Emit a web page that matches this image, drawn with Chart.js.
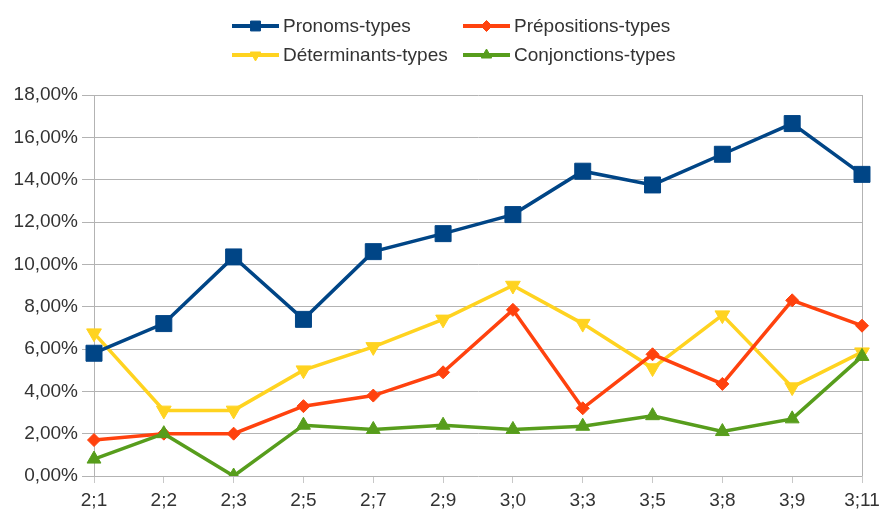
<!DOCTYPE html>
<html>
<head>
<meta charset="utf-8">
<script src="https://cdn.jsdelivr.net/npm/chart.js@4.4.0/dist/chart.umd.min.js"></script>
<style>
  html, body { margin: 0; padding: 0; background: #fff; }
  #wrap { width: 886px; height: 510px; position: relative; }
</style>
</head>
<body>
<div id="wrap"><canvas id="c"></canvas></div>
<script>
const categories = ["2;1","2;2","2;3","2;5","2;7","2;9","3;0","3;3","3;5","3;8","3;9","3;11"];
const pronoms      = [5.8, 7.2, 10.35, 7.4, 10.6, 11.45, 12.35, 14.4, 13.75, 15.2, 16.65, 14.25];
const prepositions = [1.7, 2.0, 2.0, 3.3, 3.8, 4.9, 7.85, 3.2, 5.75, 4.35, 8.3, 7.1];
const determinants = [6.75, 3.1, 3.1, 5.0, 6.1, 7.4, 9.0, 7.2, 5.1, 7.6, 4.2, 5.85];
const conjonctions = [0.8, 2.0, 0.0, 2.4, 2.2, 2.4, 2.2, 2.35, 2.85, 2.1, 2.7, 5.65];
const seriesNames = ["Pronoms-types", "Prépositions-types", "Déterminants-types", "Conjonctions-types"];

const FONT = "'Liberation Sans', Arial, sans-serif";
const TEXT = '#333333';
const GRID = '#b3b3b3';

function ds(label, data, color, style, radius, rotation, order, legendRadius) {
  return {
    label, data,
    borderColor: color, backgroundColor: color,
    borderWidth: 3.5,
    pointStyle: style, pointRadius: radius, pointHoverRadius: radius,
    pointRotation: rotation,
    pointBorderWidth: 1, pointBackgroundColor: color, pointBorderColor: color,
    tension: 0, fill: false, order,
    legendRadius
  };
}

const datasets = [
  ds(seriesNames[0], pronoms,      '#004586', 'rect',     11.3, 0,   2, 7),
  ds(seriesNames[1], prepositions, '#ff420e', 'rectRot',  6.5,  0,   1, 5.5),
  ds(seriesNames[2], determinants, '#ffd320', 'triangle', 8.5,  180, 3, 6),
  ds(seriesNames[3], conjonctions, '#579d1c', 'triangle', 8,    0,   0, 6)
];

const legendPlugin = {
  id: 'customLegend',
  afterDraw(chart) {
    const ctx = chart.ctx;
    const slots = [
      {x: 232, y: 26}, {x: 463, y: 26},
      {x: 232, y: 55}, {x: 463, y: 55}
    ];
    ctx.save();
    chart.data.datasets.forEach((d, i) => {
      const s = slots[i];
      ctx.strokeStyle = d.borderColor;
      ctx.lineWidth = 4;
      ctx.beginPath();
      ctx.moveTo(s.x, s.y);
      ctx.lineTo(s.x + 47, s.y);
      ctx.stroke();
      ctx.fillStyle = d.borderColor;
      ctx.strokeStyle = d.borderColor;
      ctx.lineWidth = 1;
      Chart.helpers.drawPoint(ctx, {pointStyle: d.pointStyle, radius: d.legendRadius, rotation: d.pointRotation, borderWidth: 1}, s.x + 23.5, s.y);
      ctx.fillStyle = TEXT;
      ctx.font = '19px ' + FONT;
      ctx.textBaseline = 'middle';
      ctx.textAlign = 'left';
      ctx.fillText(d.label, s.x + 51, s.y + 1);
    });
    ctx.restore();
  }
};

const borderPlugin = {
  id: 'rightBorder',
  beforeDatasetsDraw(chart) {
    const {ctx, chartArea} = chart;
    ctx.save();
    ctx.strokeStyle = GRID;
    ctx.lineWidth = 1;
    ctx.beginPath();
    ctx.moveTo(Math.round(chartArea.right) + 0.5, chartArea.top);
    ctx.lineTo(Math.round(chartArea.right) + 0.5, chartArea.bottom);
    ctx.stroke();
    ctx.restore();
  }
};

new Chart(document.getElementById('c'), {
  type: 'line',
  data: { labels: categories, datasets },
  plugins: [legendPlugin, borderPlugin],
  options: {
    responsive: true,
    maintainAspectRatio: false,
    animation: false,
    devicePixelRatio: 1,
    layout: { padding: { top: 95, right: 24, left: 0, bottom: 0 } },
    plugins: { legend: { display: false }, tooltip: { enabled: false } },
    scales: {
      x: {
        offset: false,
        afterFit(scale) { scale.height = 34; },
        grid: { drawOnChartArea: false, drawTicks: true, tickLength: 7, tickColor: '#c8c8c8', color: GRID },
        border: { display: false },
        ticks: { color: TEXT, font: { family: FONT, size: 19 }, padding: 6, maxRotation: 0, autoSkip: false }
      },
      y: {
        min: 0, max: 18,
        afterFit(scale) { scale.width = 94; },
        grid: { color: GRID, tickLength: 12, tickColor: GRID },
        border: { display: true, color: GRID },
        ticks: {
          stepSize: 2, color: TEXT, padding: 4,
          font: { family: FONT, size: 19 },
          callback: v => v.toFixed(2).replace('.', ',') + '%'
        }
      }
    }
  }
});
</script>
</body>
</html>
